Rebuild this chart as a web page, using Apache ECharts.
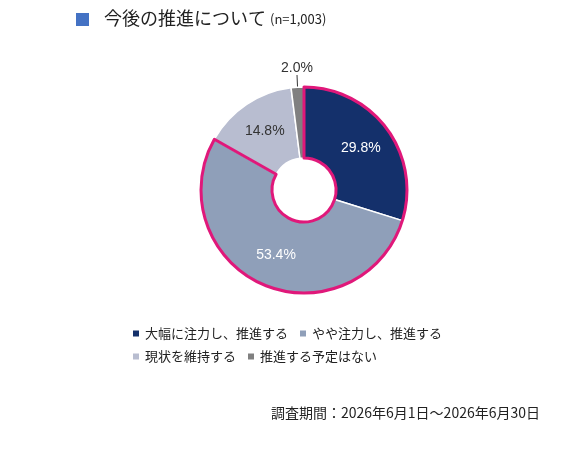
<!DOCTYPE html>
<html><head><meta charset="utf-8">
<script src="https://cdn.jsdelivr.net/npm/echarts@6/dist/echarts.min.js"></script>
<style>html,body{margin:0;padding:0;background:#fff}#c{width:564px;height:463px}</style>
</head><body><div id="c"></div>
<script>
const categories = ['大幅に注力し、推進する','やや注力し、推進する','現状を維持する','推進する予定はない'];
const values = [29.8, 53.4, 14.8, 2.0];
const colors = ['#14306b','#8f9fb9','#b8bdd0','#808080'];
const labelColors = ['#fff','#fff','#333','#333'];
const ff = '"Noto Sans CJK JP", sans-serif';
const chart = echarts.init(document.getElementById('c'));
const data = categories.map((n,i)=>({
  name:n, value:values[i], itemStyle:{color:colors[i]},
  label: i===3 ? {position:'outside', color:'#333', distance:2} : {position:'inside', color:labelColors[i]},
  labelLine: i===3 ? {show:true, length:8, length2:0, lineStyle:{color:'#333'}} : {show:false}
}));
const focus = values[0]+values[1];
const legendBase = {left:126, width:420, itemWidth:8, itemHeight:8, itemGap:10, icon:'rect',
  textStyle:{fontFamily:ff, fontSize:13, color:'#222', width:178}};
chart.setOption({
  animation:false,
  graphic:[
    {type:'rect', left:76, top:13, shape:{width:13,height:13}, style:{fill:'#4472c4'}},
    {type:'text', left:104, top:9, style:{text:'今後の推進について', font:'18px '+ff, fill:'#222'}},
    {type:'text', left:270, top:13, style:{text:'(n=1,003)', font:'13px '+ff, fill:'#222'}},
    {type:'text', right:24, top:406, style:{text:'調査期間：2026年6月1日～2026年6月30日', font:'14px '+ff, fill:'#222'}}
  ],
  legend:[
    Object.assign({data:categories.slice(0,2), top:322}, legendBase),
    Object.assign({data:categories.slice(2,4), top:345}, legendBase)
  ],
  series:[
    {type:'pie', center:[304,190], radius:[32,103], startAngle:90, clockwise:true,
     itemStyle:{borderColor:'#fff', borderWidth:1.5},
     label:{formatter:p=>p.value.toFixed(1)+'%', fontSize:14, fontFamily:'Arial, "Liberation Sans", sans-serif'},
     labelLayout:p=> p.dataIndex===3 ? {x:297, y:68, align:'center', verticalAlign:'middle'} : {},
     data:data, silent:true},
    {type:'pie', center:[304,190], radius:[32,103], startAngle:90, clockwise:true, silent:true,
     label:{show:false}, labelLine:{show:false}, legendHoverLink:false,
     data:[{name:'_a', value:focus, itemStyle:{color:'transparent', borderColor:'#e0187a', borderWidth:3}},
           {name:'_b', value:100-focus, itemStyle:{color:'transparent', borderWidth:0}}]}
  ]
});
</script></body></html>
